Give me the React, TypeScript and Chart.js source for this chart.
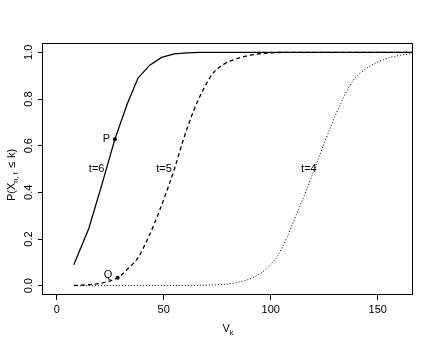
import React, { useEffect, useRef } from "react";
import { Chart, registerables } from "chart.js";

Chart.register(...registerables);

// ---- data ----
const xTicks = [0, 50, 100, 150];
const yTicks = [0, 0.2, 0.4, 0.6, 0.8, 1.0];

const t6X = [8, 15, 21, 27.2, 33, 38, 43.5, 49, 55, 61, 67, 172];
const t6Y = [0.09, 0.245, 0.43, 0.628, 0.78, 0.89, 0.945, 0.978, 0.993, 0.998, 1.0, 1.0];

const t5X = [8, 15, 22, 28.5, 33, 38, 43, 48, 52, 55, 59, 64, 68.5, 73, 79, 85, 90, 95, 100, 110, 172];
const t5Y = [0.001, 0.004, 0.013, 0.034, 0.07, 0.12, 0.21, 0.32, 0.42, 0.5, 0.62, 0.75, 0.84, 0.91, 0.954, 0.975, 0.987, 0.994, 0.998, 1.0, 1.0];

const t4X = [8, 60, 75, 82, 88, 92, 98, 103, 107.5, 112, 116.5, 120.7, 124.6, 129.3, 134, 138.6, 145, 151, 157, 166, 172];
const t4Y = [0.0, 0.001, 0.004, 0.01, 0.022, 0.036, 0.072, 0.125, 0.205, 0.305, 0.405, 0.505, 0.6, 0.71, 0.805, 0.88, 0.933, 0.962, 0.981, 0.994, 0.996];

const markX = [27.2, 28.5];
const markY = [0.628, 0.034];

const textLabels = ["t=6", "t=5", "t=4", "P", "Q"];
const textX = [22.3, 53.8, 121.5, 24.9, 26.0];
const textY = [0.5, 0.5, 0.5, 0.628, 0.046];

const FONT = '"Liberation Sans", Arial, Helvetica, sans-serif';
const FS = 11;

const toPts = (xs: number[], ys: number[]) => xs.map((x, i) => ({ x, y: ys[i] }));

export default function App() {
  const ref = useRef<HTMLCanvasElement>(null);

  useEffect(() => {
    const canvas = ref.current as HTMLCanvasElement;

    const rPlugin = {
      id: "rstyle",
      afterDatasetsDraw(chart: any) {
        const { ctx, chartArea } = chart;
        const xs = chart.scales.x;
        const ys = chart.scales.y;
        ctx.save();
        ctx.strokeStyle = "#000";
        ctx.lineWidth = 1;
        const l = Math.round(chartArea.left) - 0.5;
        const t = Math.round(chartArea.top) + 0.5;
        const r = Math.round(chartArea.right) - 0.5;
        const b = Math.round(chartArea.bottom) - 0.5;
        ctx.strokeRect(l, t, r - l, b - t);
        ctx.fillStyle = "#000";
        ctx.font = `${FS}px ${FONT}`;
        ctx.textAlign = "right";
        ctx.textBaseline = "middle";
        textLabels.forEach((s, i) => {
          ctx.fillText(s, xs.getPixelForValue(textX[i]), ys.getPixelForValue(textY[i]));
        });
        ctx.restore();
      },
      afterDraw(chart: any) {
        const { ctx, chartArea } = chart;
        const drawPieces = (pieces: { s: string; size: number; dy: number; gap?: number }[]) => {
          let total = 0;
          const widths = pieces.map((p) => {
            ctx.font = `${p.size}px ${FONT}`;
            const w = ctx.measureText(p.s).width + (p.gap || 0);
            total += w;
            return w;
          });
          let x = -total / 2;
          pieces.forEach((p, i) => {
            ctx.font = `${p.size}px ${FONT}`;
            ctx.fillText(p.s, x, p.dy);
            x += widths[i];
          });
        };
        ctx.save();
        ctx.fillStyle = "#000";
        ctx.textAlign = "left";
        ctx.textBaseline = "alphabetic";
        // x title
        ctx.save();
        ctx.translate((chartArea.left + chartArea.right) / 2, 332);
        drawPieces([
          { s: "V", size: FS, dy: 0 },
          { s: "k", size: FS * 0.7, dy: 3 },
        ]);
        ctx.restore();
        // y title
        ctx.save();
        ctx.translate(15, 175);
        ctx.rotate(-Math.PI / 2);
        drawPieces([
          { s: "P(X", size: FS, dy: 0 },
          { s: "n, t", size: FS * 0.7, dy: 3, gap: 4 },
          { s: "\u2264", size: FS, dy: 0, gap: 4 },
          { s: "k)", size: FS, dy: 0 },
        ]);
        ctx.restore();
        ctx.restore();
      },
    };

    const chart = new Chart(canvas, {
      type: "scatter",
      data: {
        datasets: [
          {
            label: "t=6",
            data: toPts(t6X, t6Y),
            showLine: true,
            borderColor: "#000",
            borderWidth: 1.3,
            pointRadius: 0,
            tension: 0,
          },
          {
            label: "t=5",
            data: toPts(t5X, t5Y),
            showLine: true,
            borderColor: "#000",
            borderWidth: 1.3,
            borderDash: [4, 3],
            pointRadius: 0,
            cubicInterpolationMode: "monotone",
          },
          {
            label: "t=4",
            data: toPts(t4X, t4Y),
            showLine: true,
            borderColor: "#000",
            borderWidth: 1,
            borderDash: [1, 2],
            pointRadius: 0,
            cubicInterpolationMode: "monotone",
          },
          {
            label: "marks",
            data: toPts(markX, markY),
            showLine: false,
            pointRadius: 2,
            pointBackgroundColor: "#000",
            pointBorderColor: "#000",
            pointBorderWidth: 0,
          },
        ],
      } as any,
      options: {
        responsive: false,
        animation: false,
        devicePixelRatio: 1,
        events: [],
        layout: { padding: { top: 43, right: 23, left: 0, bottom: 0 } },
        plugins: { legend: { display: false }, tooltip: { enabled: false } },
        scales: {
          x: {
            type: "linear",
            min: -6.4,
            max: 166.5,
            afterBuildTicks: (s: any) => {
              s.ticks = xTicks.map((v) => ({ value: v }));
            },
            afterFit: (s: any) => {
              s.height = 54;
            },
            grid: { display: true, drawOnChartArea: false, drawTicks: true, tickLength: 5, color: "#000", lineWidth: 1 },
            border: { display: false },
            ticks: {
              color: "#000",
              font: { family: FONT, size: FS },
              padding: 3.5,
              minRotation: 0,
              maxRotation: 0,
              callback: (v: any) => String(v),
            },
          },
          y: {
            type: "linear",
            min: -0.04,
            max: 1.04,
            afterBuildTicks: (s: any) => {
              s.ticks = yTicks.map((v) => ({ value: v }));
            },
            afterFit: (s: any) => {
              s.width = 43;
            },
            grid: { display: true, drawOnChartArea: false, drawTicks: true, tickLength: 5, color: "#000", lineWidth: 1 },
            border: { display: false },
            ticks: {
              color: "#000",
              font: { family: FONT, size: FS },
              padding: 1.5,
              minRotation: 90,
              maxRotation: 90,
              crossAlign: "center",
              callback: (v: any) => Number(v).toFixed(1),
            },
          },
        },
      } as any,
      plugins: [rPlugin],
    });

    return () => chart.destroy();
  }, []);

  return (
    <div style={{ position: "absolute", left: 0, top: 0, width: 436, height: 349, background: "#fff" }}>
      <canvas ref={ref} width={436} height={349} style={{ display: "block", width: 436, height: 349 }} />
    </div>
  );
}
